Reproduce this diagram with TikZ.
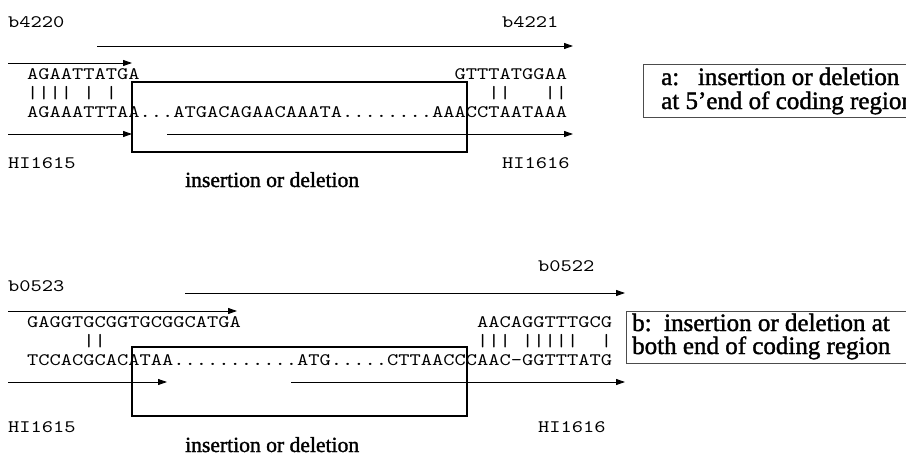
\documentclass[tikz,border=0pt]{standalone}
\usepackage{fontspec}
\setmainfont{Liberation Serif}
\newfontfamily\capfont[FakeBold=1.5]{Liberation Serif}
\newfontfamily\seqfont[FakeStretch=1.2245]{lmmono10-regular.otf}
\usetikzlibrary{arrows.meta}

% one character column of the sequence font
\def\cw{11.25}

\tikzset{
  seq/.style={anchor=base west, inner sep=0pt, font=\seqfont\fontsize{17.5}{20}\selectfont},
  match/.style={anchor=west, inner sep=0pt, font=\seqfont\fontsize{17.5}{20}\selectfont},
  gene/.style={-{Triangle[length=9pt,width=6pt]}, line width=0.9pt},
  indel/.style={draw, line width=2.2pt},
  caption/.style={anchor=base west, inner sep=0pt, font=\capfont\fontsize{21.6}{24}\selectfont},
  note/.style={anchor=base west, inner sep=0pt, font=\capfont\fontsize{25}{24}\selectfont},
  notebox/.style={draw=black!70, line width=0.9pt},
}

\begin{document}
\begin{tikzpicture}[x=1pt,y=-1pt]
\path[use as bounding box, clip] (0,0) rectangle (906,458);

% --- a: 5' end ---
\node[seq] (b4220) at (8,27.5) {b4220};
\node[seq] (b4221) at (502,27.5) {b4221};
\draw[gene] (97,46) -- (573,46);
\draw[gene] (8,63) -- (132,63);

\node[seq] (topA1) at (27,79) {AGAATTATGA};
\node[seq] (topA2) at ({27+38*\cw},79) {GTTTATGGAA};
\node[match] (barA1) at (27,93.5) {||||~|~|};
\node[match] (barA2) at ({27+41*\cw},93.5) {||~~~||};
\node[seq] (botA) at (27,117) {AGAAATTTAA...ATGACAGAACAAATA........AAACCTAATAAA};

\draw[gene] (8,134) -- (132,134);
\draw[gene] (167,134) -- (573,134);
\draw[indel] (132,82) rectangle (467,152);

\node[seq] (hiA1) at (8,168) {HI1615};
\node[seq] (hiA2) at (502,168) {HI1616};
\node[caption] (indelA) at (185,187) {insertion or deletion};

\draw[notebox] (643,64) rectangle (930,117);
\node[note] (noteA1) at (661,85) {a:\ \ \ insertion or deletion};
\node[note] (noteA2) at (661,109) {at 5’end of coding region};

% --- b: both ends ---
\node[seq] (b0523) at (8,291.5) {b0523};
\node[seq] (b0522) at (538,271.5) {b0522};
\draw[gene] (185,293) -- (625,293);
\draw[gene] (8,311) -- (237,311);

\node[seq] (topB1) at (27,327) {GAGGTGCGGTGCGGCATGA};
\node[seq] (topB2) at ({27+40*\cw},327) {AACAGGTTTGCG};
\node[match] (barB1) at ({27+5*\cw},341) {||};
\node[match] (barB2) at ({27+40*\cw},341) {|||~|||||~~|};
\node[seq] (botB) at (27,365) {TCCACGCACATAA...........ATG.....CTTAACCCAAC-GGTTTATG};

\draw[gene] (8,382) -- (167,382);
\draw[gene] (291,382) -- (625,382);
\draw[indel] (132,347) rectangle (467,416);

\node[seq] (hiB1) at (8,432.5) {HI1615};
\node[seq] (hiB2) at (538,432.5) {HI1616};
\node[caption] (indelB) at (185,452) {insertion or deletion};

\draw[notebox] (626,311) rectangle (930,363);
\node[note] (noteB1) at (632,331) {b:\ \ insertion or deletion at};
\node[note] (noteB2) at (632,354) {both end of coding region};
\end{tikzpicture}
\end{document}
